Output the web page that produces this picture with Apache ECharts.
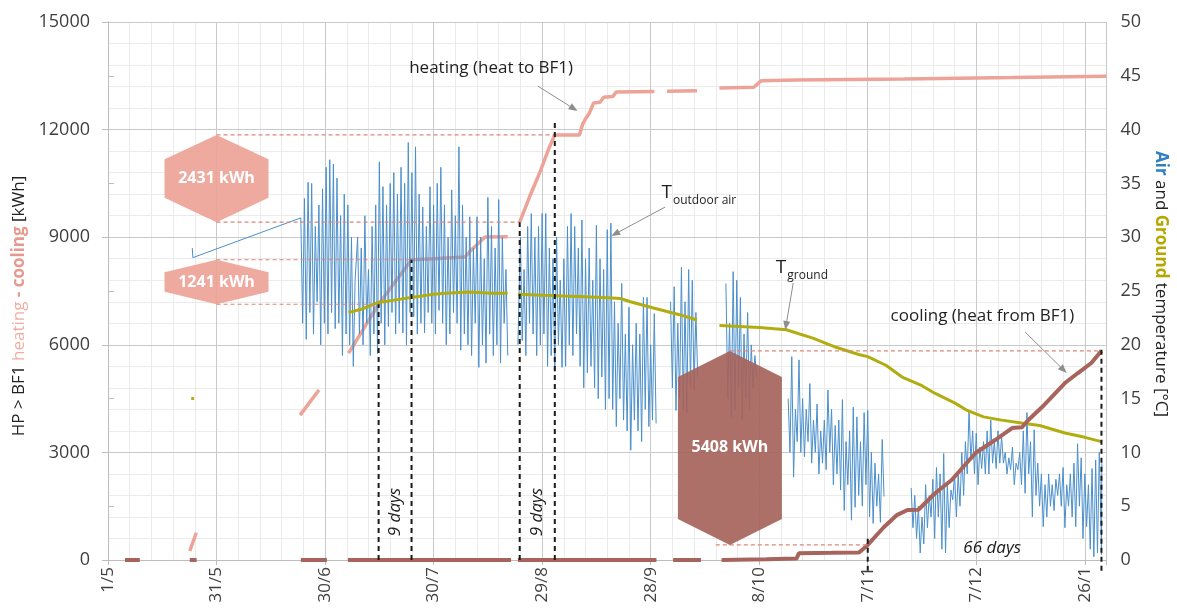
<!DOCTYPE html>
<html><head><meta charset="utf-8">
<script src="https://cdn.jsdelivr.net/npm/echarts@6/dist/echarts.min.js"></script>
<style>html,body{margin:0;padding:0;background:#fff}#c{width:1177px;height:615px}</style>
</head><body><div id="c"></div>
<script>
// x values are days counted from 1 May
const xTickLabels = ['1/5','31/5','30/6','30/7','29/8','28/9','8/10','7/11','7/12','26/1'];
const GAP = ['-','-'];

// cumulative heating (heat to BF1), kWh
const heatingPts = [[22.6,250],[24.4,760],GAP,[53.1,4040],[58.3,4740],GAP,
  [66.5,5770],[74.8,7130],[83.9,8371],[90,8400],[98.7,8450],[100,8600],[104.2,9005],[110.5,9010],GAP,
  [113.8,9420],[116.5,10120],[119.3,10790],[122,11510],[123.5,11851],[130.3,11851],[131.2,12150],[132,12300],
  [133,12450],[134.2,12740],[136,12760],[137,12900],[139.5,12920],[140.5,13050],[151,13060],GAP,
  [154.5,13070],[162.8,13080],GAP,[169,13160],[178.5,13180],[180.5,13360],[190,13380],[220,13410],[250,13450],[276,13490]];

// cumulative cooling (heat from BF1), kWh
const coolingPts = [[4.7,0],[8.8,0],GAP,[22.6,0],[24.5,0],GAP,[53.3,0],[60.5,0],GAP,[66.3,0],[111.4,0],GAP,
  [113.3,0],[151.6,0],GAP,[156.2,0],[163.9,0],GAP,[169.6,0],[182,20],[190.3,40],[191,190],[200,200],[207.6,210],
  [210,420],[214.5,920],[218,1250],[221,1394],[224,1400],[228.7,1868],[233.2,2230],[239.8,2983],[245.2,3345],
  [249.9,3680],[252.6,3700],[254.4,3903],[258.2,4265],[264.5,4934],[268.1,5213],[271.8,5492],[274.6,5830]];

// ground temperature, °C
const groundPts = [[23.0,15],[23.8,15],GAP,[66.5,23.0],[70,23.3],[74.4,23.9],[80,24.2],[83.8,24.4],[90,24.7],
  [93.2,24.8],[100,24.9],[106,24.8],[110.5,24.8],GAP,[113.3,24.7],[120,24.6],[130,24.5],[137,24.4],[141.6,24.3],
  [144.4,24.0],[151,23.4],[158,22.8],[162.8,22.3],GAP,[169,21.8],[180,21.6],[187.5,21.4],[195,20.6],[199.5,20.0],
  [201,19.8],[207.5,19.1],[210,18.9],[215,18.1],[219.5,17.0],[225,16.2],[228.5,15.5],[234,14.6],[237.5,13.9],
  [242,13.3],[247,13.0],[253,12.7],[257.5,12.5],[264.5,11.8],[270,11.4],[274.6,11.0]];

// outdoor air temperature, °C : daily highs and lows per recorded block
const airLead = [[23.3,29.0],[23.45,28.1]];
const air1Start = 53.3;
const air1Hi = [31.8,33.6,35.1,35,31,33,34.5,36.5,37.2,36.8,35.5,32,34,33,30,26];
const air1Lo = [22,20.5,23,21,24,20,22,21,23,21.5,22,19,21,20,18];
const air2Start = 69;
const air2Hi = [30,29,32,27,31,33,37,34.7,33,35,36,34,36.5,35,38.8,36,38.4,34,32.8,31,34.7,33,35,36.5,33,30,34.4,32,38.4,33,30,31.9,29,31.9,30,28,33.7,31,29,33.5,30,27];
const air2Lo = [21,20,22,19,21,19.2,22,20,21.7,23,21,22,21.1,20,23,22.6,21,22,21.1,23,22,21,23.2,22,20,21,23,22,19.5,21,20,19,22,17.9,20,18.3,21,19,20,18.3,22,19];
const air3Lead = [[113.3,20]];
const air3Start = 114;
const air3Hi = [30,27,31,32.2,30,31,32.2,32.2,29,28,30,26,28,31,32.2,31,29,31.6,28,29,26,31.1,28,27,30.7,31.3,24,22,25.7,21,23.5,20,22,21,24.4,24.4,20,22.9];
const air3Lo = [20.4,19,22,21,19,20,21,18,19,17.5,20,17.9,18,20,19,21,18,16,17.4,18,16,15,17,14,15,14,12.4,15,13,12,10.2,13,12,11,14,12.4,13,12.7];
const air4Start = 155.5;
const air4Hi = [24,25.4,22,27.2,24,27,26,23];
const air4Lo = [16,13.9,15,14,13.7,16,15.8,17];
const air5Start = 170.8;
const air5Hi = [25.7,22,26.8,26,24.4,21,23,20,19];
const air5Lo = [15,13.3,14,16,13,15,14,16,17];
const air6Start = 188;
const air6Hi = [15,18.9,14,18.6,15,14,16.4,13,14.5,12,13,15.8,14,12.5,13,14.9,11,12,14.2,13.3,11,13.7,13.9,10,9,8,11.2];
const air6Lo = [10,7.7,11,10,9.6,11,9,10,8,9,8.4,10,7,8,6.5,4.6,7,3.7,4.9,6,5,7,4,3.4,5,3.5,5.9];
const air7Start = 222;
const air7Hi = [6.7,6,5,4,7,6,7.5,8.6,8,9.9,7,6.5,8,8,10,11,13.9,12,11.8,10.5,11,12,13,11,12,11.5,10,9.5,10.5,9,10,12,13.7,11,12.1,9,8,7,8,7,7.5,8,8.6,7,8,9,10.8,9.5,8,7,8.5,9.3,10];
const air7Lo = [3,2,0.65,1.5,3,4,2,4,1,0.65,3,5.6,4,5,6,8,9.3,8,7,8.5,8,8,9,8.5,9,9,8,8.4,7,8.4,7,6.2,8,4,6,5,3.1,4,5,4.6,6,5,3,5,4,3.1,5,2,3.1,1,0.3,0.65,3];
const airTail = [[274.6,0.5],[274.7,9]];

// energy differences marked with hexagons
const hexCenter = [30, 30, 171.9];
const hexLow = [9420, 7130, 420];
const hexHigh = [11851, 8371, 5830];
const hexLabel = ['2431 kWh', '1241 kWh', '5408 kWh'];

// dashed reference levels: from day, to day, kWh
const refFrom = [30, 30, 30, 30, 171.9, 168];
const refTo = [123.5, 113.8, 83.9, 74.8, 274.6, 210];
const refLevel = [11851, 9420, 8371, 7130, 5830, 420];

// black dashed period markers: day, from kWh, to kWh
const markDay = [74.8, 83.9, 113.8, 123.5, 210, 274.6];
const markFrom = [0, 0, 0, 0, -300, -300];
const markTo = [7130, 8371, 9420, 12200, 700, 5900];

// annotation texts and arrows (data coordinates)
const noteText = ['heating (heat to BF1)', 'cooling (heat from BF1)'];
const noteX = [105.9, 241.7];
const noteY = [13716, 6802];
const symSub = ['outdoor air', 'ground'];
const symX = [155.9, 187.5];
const symY = [10231, 8141];
const periodText = ['9 days', '9 days', '66 days'];
const periodX = [79.5, 118.6, 244.4];
const periodY = [1338, 1338, 335];
const periodRot = [90, 90, 0];
const arrowFrom = [[118.8,13214],[154,9841],[189.4,7722],[253.5,6356]];
const arrowTo = [[129.8,12517],[139.1,9033],[187.2,6412],[265,5213]];

function hiLo(start, hi, lo) {
  const out = [];
  for (let i = 0; i < hi.length; i++) {
    out.push([start + i, hi[i]]);
    if (i < lo.length) out.push([start + i + 0.5, lo[i]]);
  }
  return out;
}
const airPts = [].concat(airLead, hiLo(air1Start, air1Hi, air1Lo), hiLo(air2Start, air2Hi, air2Lo), [GAP],
  air3Lead, hiLo(air3Start, air3Hi, air3Lo), [GAP], hiLo(air4Start, air4Hi, air4Lo), [GAP],
  hiLo(air5Start, air5Hi, air5Lo), [GAP], hiLo(air6Start, air6Hi, air6Lo), [GAP],
  hiLo(air7Start, air7Hi, air7Lo), airTail);

const refPts = [];
refLevel.forEach((v, i) => { refPts.push([refFrom[i], v], [refTo[i], v], GAP); });
const markPts = [];
markDay.forEach((d, i) => { markPts.push([d, markFrom[i]], [d, markTo[i]], GAP); });

const F = "'Open Sans', sans-serif";
const HEAT = '#eda397', COOL = '#a6645c', AIR = '#4a8fcb', GROUND = '#b1ac10';
const hexFill = [HEAT, HEAT, COOL];

const chart = echarts.init(document.getElementById('c'));
chart.setOption({
  animation: false,
  textStyle: { fontFamily: F },
  grid: { left: 108, right: 64, top: 22, bottom: 55 },
  xAxis: [{
    type: 'value', min: 0, max: 276, interval: 30, z: 1,
    axisLine: { lineStyle: { color: '#bdbdbd' } },
    axisTick: { show: true, length: 5, lineStyle: { color: '#bdbdbd' } },
    axisLabel: { rotate: 90, fontSize: 17, color: '#3f3f3f', fontFamily: F, margin: 7,
      formatter: v => (v % 30 === 0 && v / 30 < xTickLabels.length) ? xTickLabels[v / 30] : '' },
    splitLine: { show: true, lineStyle: { color: '#c9c9c9', width: 1 } }
  }, {
    type: 'value', min: 0, max: 276, interval: 6, position: 'top', z: 0,
    axisLine: { show: false }, axisTick: { show: false }, axisLabel: { show: false },
    splitLine: { show: true, lineStyle: { color: '#ebebeb', width: 1 } }
  }],
  yAxis: [{
    type: 'value', min: 0, max: 15000, interval: 3000, z: 1,
    axisLine: { show: true, lineStyle: { color: '#bdbdbd' } },
    axisTick: { show: true, length: 6, lineStyle: { color: '#bdbdbd' } },
    axisLabel: { fontSize: 18, color: '#3f3f3f', fontFamily: F, margin: 18, formatter: v => String(v) },
    splitLine: { show: true, lineStyle: { color: '#c9c9c9' } },
    minorTick: { show: false, splitNumber: 5 },
    minorSplitLine: { show: true, lineStyle: { color: '#ebebeb' } },
    name: '{k|HP > BF1 }{h|heating}{c| - cooling}{k| [kWh]}',
    nameLocation: 'middle', nameGap: 74,
    nameTextStyle: { padding: [0, 30, 0, 0], rich: {
      k: { color: '#222', fontSize: 17, fontFamily: F },
      h: { color: '#f0aea3', fontSize: 17, fontFamily: F },
      c: { color: '#e49a8e', fontSize: 17, fontFamily: F, fontWeight: 'bold' } } }
  }, {
    type: 'value', min: 0, max: 50, interval: 5, position: 'right',
    axisLine: { show: true, lineStyle: { color: '#bdbdbd' } },
    axisTick: { show: true, length: 6, lineStyle: { color: '#bdbdbd' } },
    axisLabel: { fontSize: 18, color: '#3f3f3f', fontFamily: F, margin: 14 },
    splitLine: { show: false },
    name: '{a|Air}{k| and }{g|Ground}{k| temperature [°C]}',
    nameLocation: 'middle', nameGap: 42, nameRotate: -90,
    nameTextStyle: { padding: [0, 14, 0, 0], rich: {
      k: { color: '#222', fontSize: 17, fontFamily: F },
      a: { color: '#2f7fc1', fontSize: 17, fontFamily: F, fontWeight: 'bold' },
      g: { color: '#b3a700', fontSize: 17, fontFamily: F, fontWeight: 'bold' } } }
  }],
  series: [
    { type: 'line', name: 'heating', data: heatingPts, xAxisIndex: 0, yAxisIndex: 0, symbol: 'none', z: 2,
      lineStyle: { color: HEAT, width: 3.5 }, connectNulls: false },
    { type: 'line', name: 'air', data: airPts, xAxisIndex: 0, yAxisIndex: 1, symbol: 'none', z: 3,
      lineStyle: { color: AIR, width: 1 }, connectNulls: false },
    { type: 'line', name: 'ground', data: groundPts, xAxisIndex: 0, yAxisIndex: 1, symbol: 'none', z: 4,
      lineStyle: { color: GROUND, width: 3 }, connectNulls: false },
    { type: 'line', name: 'cooling', data: coolingPts, xAxisIndex: 0, yAxisIndex: 0, symbol: 'none', z: 5,
      lineStyle: { color: COOL, width: 4 }, connectNulls: false },
    { type: 'line', name: 'ref', data: refPts, xAxisIndex: 0, yAxisIndex: 0, symbol: 'none', z: 6,
      lineStyle: { color: '#dd8679', width: 1.2, type: [4, 3] }, connectNulls: false },
    { type: 'line', name: 'periods', data: markPts, xAxisIndex: 0, yAxisIndex: 0, symbol: 'none', z: 6, clip: false,
      lineStyle: { color: '#1a1a1a', width: 2, type: [5, 4] }, connectNulls: false },
    { type: 'custom', name: 'hex', xAxisIndex: 0, yAxisIndex: 0, z: 7,
      data: hexCenter.map((c, i) => [c, hexLow[i], hexHigh[i]]), encode: { x: 0, y: [1, 2] },
      renderItem: (params, api) => {
        const i = params.dataIndex;
        const top = api.coord([api.value(0), api.value(2)]);
        const bot = api.coord([api.value(0), api.value(1)]);
        const h = bot[1] - top[1], d = Math.min(26, h * 0.28), w = 52, x = top[0];
        const pts = [[x, top[1]], [x + w, top[1] + d], [x + w, bot[1] - d], [x, bot[1]], [x - w, bot[1] - d], [x - w, top[1] + d]];
        return { type: 'group', children: [
          { type: 'polygon', shape: { points: pts }, style: { fill: hexFill[i], opacity: 0.92 } },
          { type: 'text', x: x, y: (top[1] + bot[1]) / 2, style: { text: hexLabel[i], fill: '#fff',
            fontSize: 16, fontWeight: 'bold', fontFamily: F, align: 'center', verticalAlign: 'middle' } }
        ] };
      } },
    { type: 'custom', name: 'arrows', xAxisIndex: 0, yAxisIndex: 0, z: 8,
      data: arrowFrom.map((p, i) => [p[0], p[1], arrowTo[i][0], arrowTo[i][1]]), encode: { x: [0, 2], y: [1, 3] },
      renderItem: (params, api) => {
        const p1 = api.coord([api.value(0), api.value(1)]), p2 = api.coord([api.value(2), api.value(3)]);
        const a = Math.atan2(p2[1] - p1[1], p2[0] - p1[0]), L = 9, W = 3.5;
        const b = [p2[0] - L * Math.cos(a), p2[1] - L * Math.sin(a)];
        const l = [b[0] + W * Math.sin(a), b[1] - W * Math.cos(a)], r = [b[0] - W * Math.sin(a), b[1] + W * Math.cos(a)];
        return { type: 'group', children: [
          { type: 'line', shape: { x1: p1[0], y1: p1[1], x2: b[0], y2: b[1] }, style: { stroke: '#8d8d8d', lineWidth: 1 } },
          { type: 'polygon', shape: { points: [p2, l, r] }, style: { fill: '#8d8d8d' } }
        ] };
      } },
    { type: 'custom', name: 'notes', xAxisIndex: 0, yAxisIndex: 0, z: 8,
      data: noteX.map((x, i) => [x, noteY[i]]),
      renderItem: (params, api) => {
        const p = api.coord([api.value(0), api.value(1)]);
        return { type: 'text', x: p[0], y: p[1], style: { text: noteText[params.dataIndex], fill: '#1f1f1f',
          fontSize: 17, fontFamily: F, align: 'center', verticalAlign: 'middle' } };
      } },
    { type: 'custom', name: 'symbols', xAxisIndex: 0, yAxisIndex: 0, z: 8,
      data: symX.map((x, i) => [x, symY[i]]),
      renderItem: (params, api) => {
        const p = api.coord([api.value(0), api.value(1)]);
        return { type: 'group', children: [
          { type: 'text', x: p[0], y: p[1], style: { text: 'T', fill: '#1f1f1f', fontSize: 19, fontFamily: F,
            align: 'right', verticalAlign: 'middle' } },
          { type: 'text', x: p[0] + 1, y: p[1] + 8, style: { text: symSub[params.dataIndex], fill: '#1f1f1f',
            fontSize: 12, fontFamily: F, align: 'left', verticalAlign: 'middle' } }
        ] };
      } },
    { type: 'custom', name: 'periodsText', xAxisIndex: 0, yAxisIndex: 0, z: 8,
      data: periodX.map((x, i) => [x, periodY[i]]),
      renderItem: (params, api) => {
        const i = params.dataIndex;
        const p = api.coord([api.value(0), api.value(1)]);
        return { type: 'text', x: p[0], y: p[1], rotation: periodRot[i] * Math.PI / 180,
          style: { text: periodText[i], fill: '#1a1a1a', fontSize: 17, fontStyle: 'italic', fontFamily: F,
            align: 'center', verticalAlign: 'middle' } };
      } }
  ]
});
</script></body></html>
